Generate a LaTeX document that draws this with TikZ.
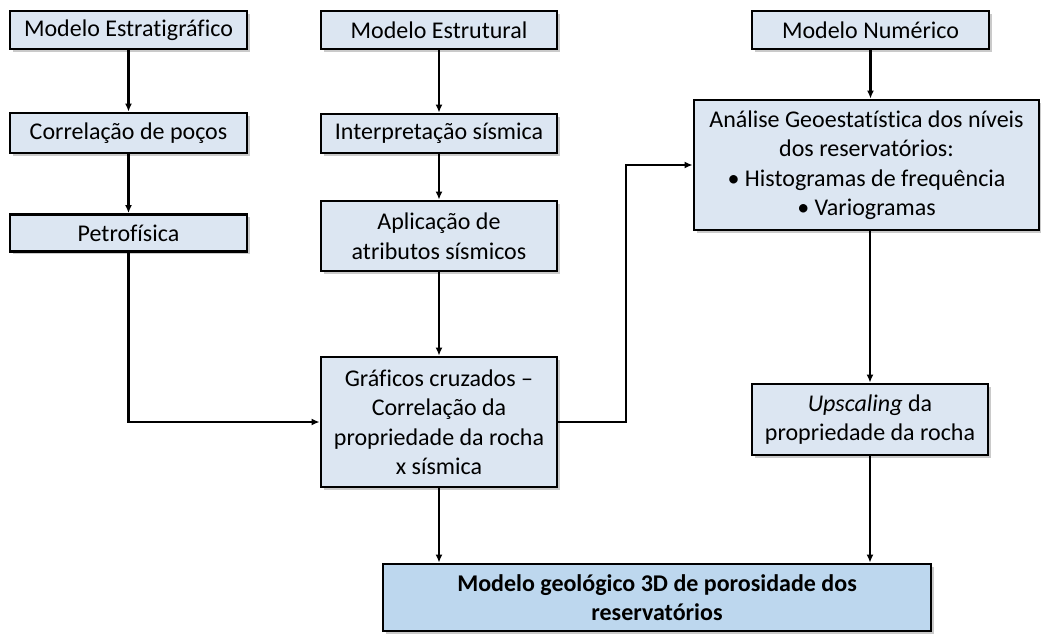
\documentclass[tikz,border=0pt]{standalone}
\usepackage{fontspec}
\setmainfont{Carlito}[Ligatures=NoCommon]
\usetikzlibrary{arrows.meta,shadows}
\definecolor{azulclaro}{HTML}{DCE6F2}
\definecolor{azulforte}{HTML}{BDD7EE}
\begin{document}
\begin{tikzpicture}[x=1pt,y=-1pt,
  caixa/.style={draw=black,line width=2.8pt,fill=azulclaro,align=center,inner sep=0pt,
    drop shadow={shadow xshift=2.5pt,shadow yshift=-2.5pt,opacity=0.35,fill=black!60},
    font=\fontsize{24}{29.5}\selectfont},
  seta/.style={line width=2.2pt,-{Latex[length=8pt,width=7pt]}}]
\useasboundingbox (0,0) rectangle (1041,633);
% coluna da esquerda
\node[caixa,minimum width=237pt,minimum height=38pt] (est) at (128.5,30) {Modelo Estratigráfico};
\node[caixa,minimum width=237pt,minimum height=40pt] (corr) at (128.5,133) {Correlação de poços};
\node[caixa,minimum width=237pt,minimum height=37pt] (petro) at (128.5,233) {Petrofísica};
% coluna do meio
\node[caixa,minimum width=236pt,minimum height=38pt] (estr) at (439,30) {Modelo Estrutural};
\node[caixa,minimum width=236pt,minimum height=39pt] (interp) at (439,133.5) {Interpretação sísmica};
\node[caixa,minimum width=236pt,minimum height=70pt] (apl) at (439,236) {Aplicação de\\atributos sísmicos};
\node[caixa,minimum width=236pt,minimum height=130pt] (graf) at (439,422) {Gráficos cruzados --\\Correlação da\\propriedade da rocha\\x sísmica};
% coluna da direita
\node[caixa,minimum width=237pt,minimum height=38pt] (num) at (870.5,30) {Modelo Numérico};
\node[caixa,minimum width=345pt,minimum height=130pt] (ana) at (866.5,165) {Análise Geoestatística dos níveis\\dos reservatórios:\\\textbullet\ Histogramas de frequência\\\textbullet\ Variogramas};
\node[caixa,minimum width=236pt,minimum height=71pt] (up) at (870,419.5) {\textit{Upscaling} da\\propriedade da rocha};
% resultado
\node[caixa,fill=azulforte,minimum width=548pt,minimum height=67pt] (bot) at (657,597.5) {\textbf{Modelo geológico 3D de porosidade dos}\\\textbf{reservatórios}};
\coordinate (dobra) at (626,0);
% setas
\draw[seta] (est) -- (corr);
\draw[seta] (corr) -- (petro);
\draw[seta] (estr) -- (interp);
\draw[seta] (interp) -- (apl);
\draw[seta] (apl) -- (graf);
\draw[seta] (petro.south) |- (graf.west);
\draw[seta] (graf.east) -- (graf.east -| dobra) |- (ana.west);
\draw[seta] (num.south) -- (num.south |- ana.north);
\draw[seta] (up.north |- ana.south) -- (up.north);
\draw[seta] (graf.south) -- (graf.south |- bot.north);
\draw[seta] (up.south) -- (up.south |- bot.north);
\end{tikzpicture}
\end{document}
